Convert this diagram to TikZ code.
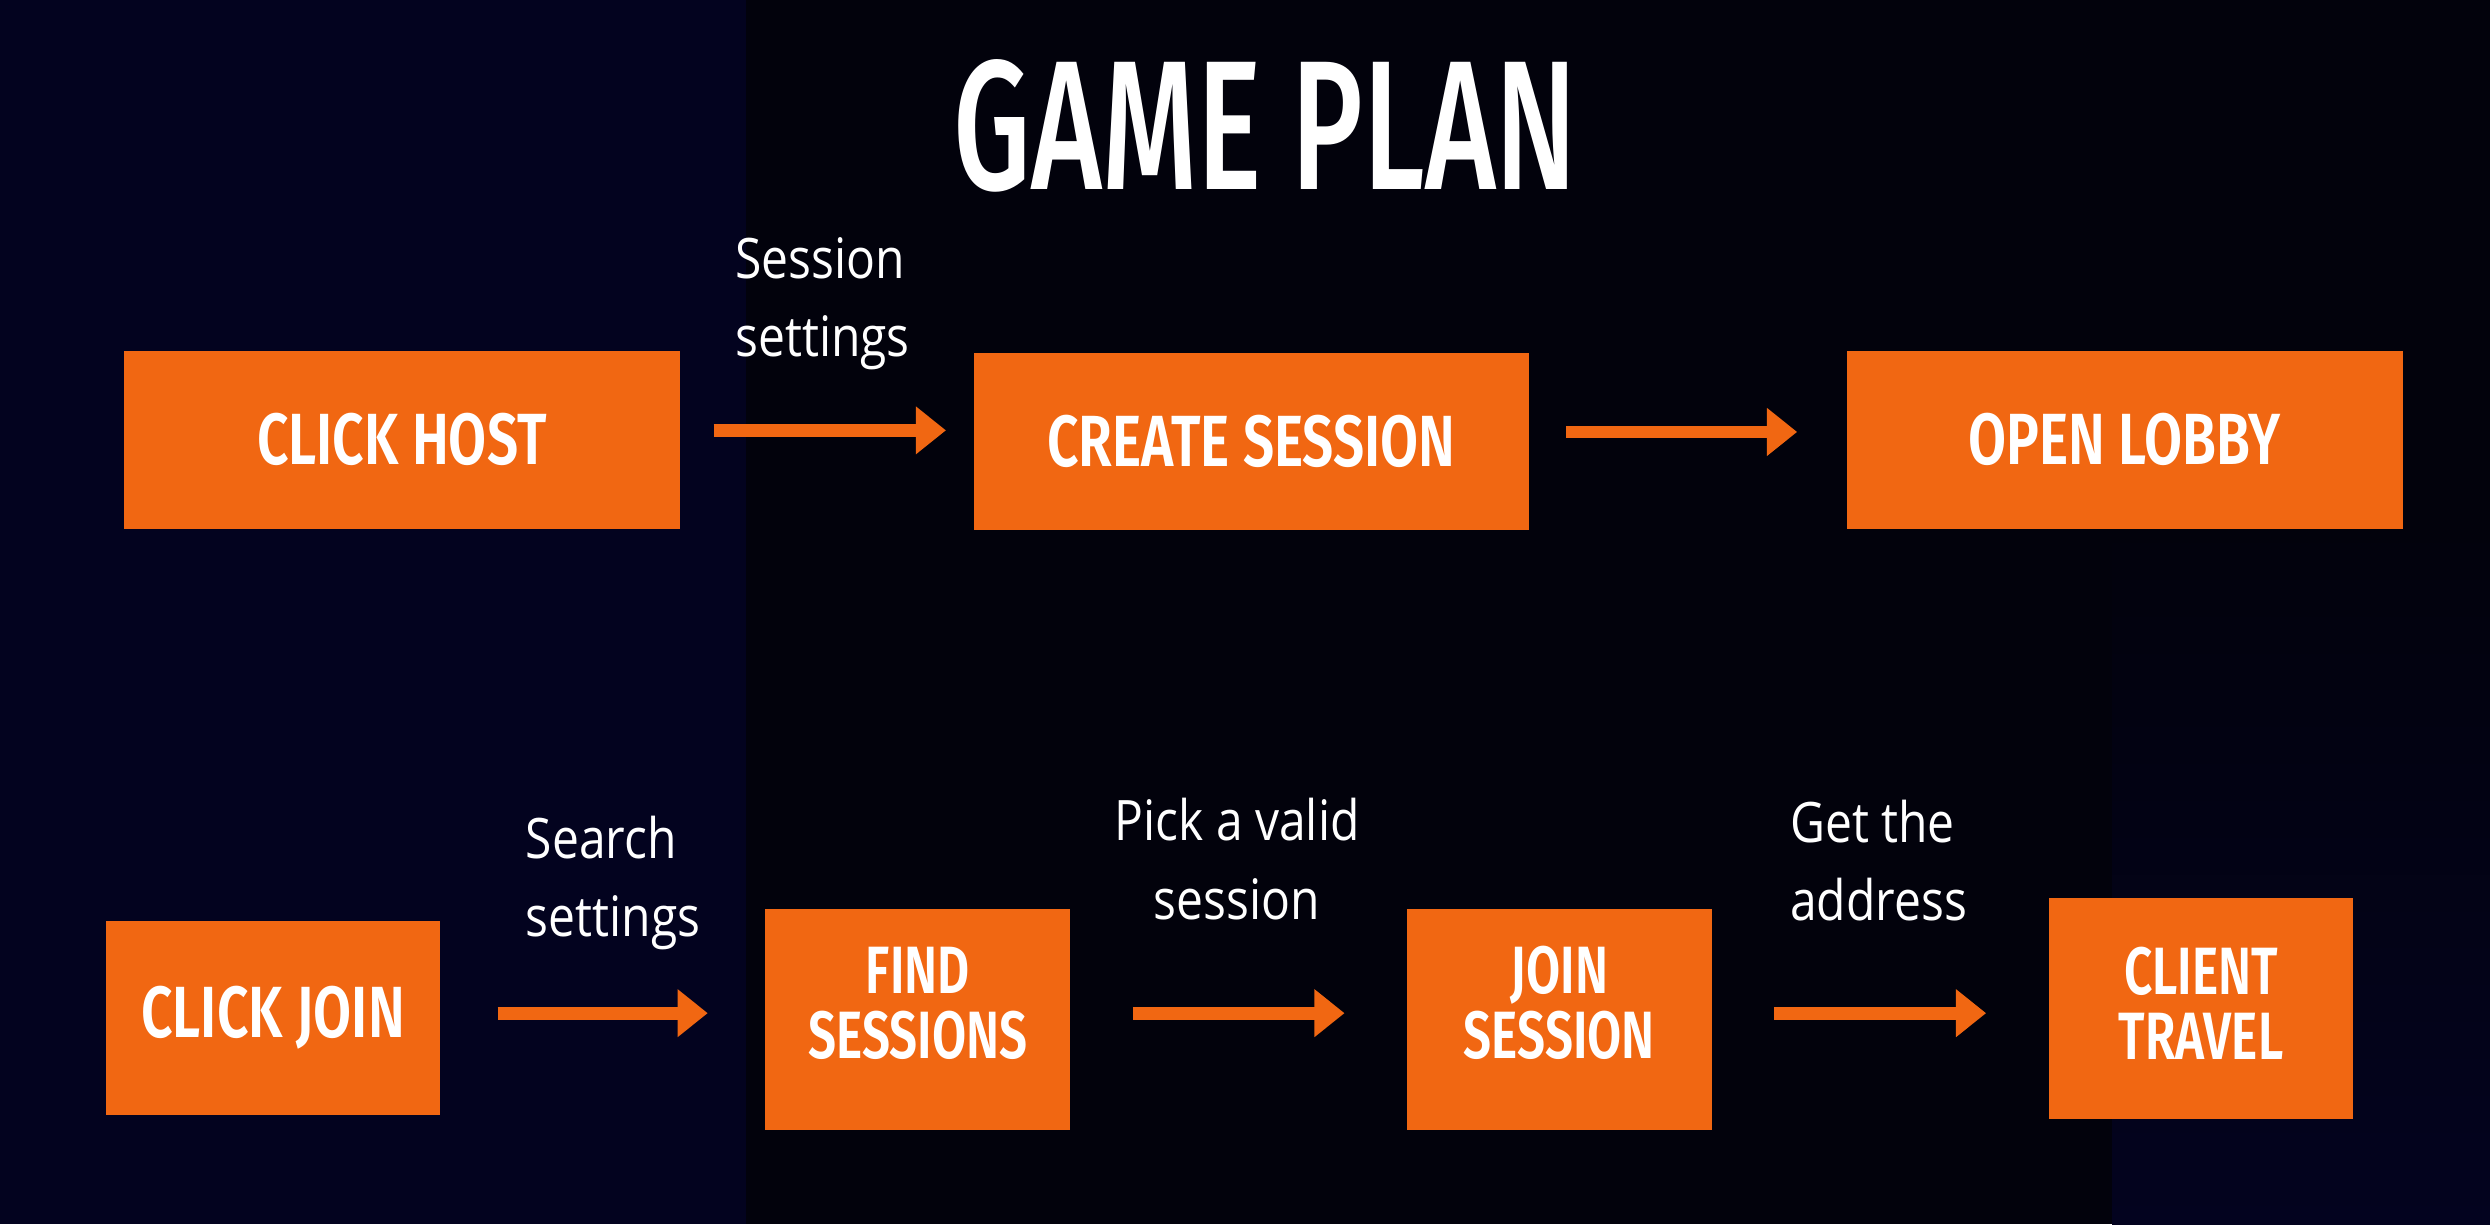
\documentclass[tikz,border=0pt]{standalone}
\usepackage{fontspec}
\setmainfont{Open Sans}
\newfontfamily\titlefont[FakeStretch=0.66]{Fira Sans Medium}
\newfontfamily\boxfont[FakeStretch=0.76]{Fira Sans SemiBold}
\newfontfamily\tallfont[FakeStretch=0.74]{Fira Sans SemiBold}
\newfontfamily\lblfont[FakeStretch=0.86]{Open Sans}
\usetikzlibrary{arrows.meta,positioning}
\definecolor{planorange}{RGB}{241,103,18}
\definecolor{nightnavy}{RGB}{3,3,31}
\definecolor{nightblack}{RGB}{2,2,12}

\begin{document}
\begin{tikzpicture}[x=0.02cm,y=-0.02cm,
   stage/.style={fill=planorange,text=white,align=center,inner sep=0pt,
      font=\boxfont\fontsize{26}{23.2}\selectfont},
   wide/.style={stage,minimum width=7cm,minimum height=2.24cm},
   tall/.style={stage,minimum width=3.84cm,minimum height=2.78cm,
      font=\tallfont\fontsize{24}{23.2}\selectfont,text height=39.7pt,text depth=#1},
   tall/.default=12pt,
   flow/.style={planorange,line width=0.16cm,-{Triangle[length=0.38cm,width=0.58cm]}},
   note/.style={text=white,font=\lblfont\fontsize{20}{28}\selectfont,align=left}]
   % backdrop
   \fill[nightblack] (0,0) rectangle (1568,771);
   \fill[nightnavy] (0,0) rectangle (470,771);
   \shade[top color=nightblack,bottom color=nightnavy] (1330,330) rectangle (1568,771);
   \useasboundingbox (0,0) rectangle (1568,771);
   \node[text=white,inner sep=0pt,font=\titlefont\fontsize{66}{66}\selectfont] (title) at (797,79) {GAME PLAN};
   % host row
   \node[wide] (host) at (253,277) {CLICK HOST};
   \node[wide] (create) at (788,278) {CREATE SESSION};
   \node[wide] (lobby) at (1338,277) {OPEN LOBBY};
   % join row
   \node[stage,minimum width=4.2cm,minimum height=2.44cm] (join) at (172,641) {CLICK JOIN};
   \node[tall] (find) at (578,642) {FIND\\SESSIONS};
   \node[tall] (enter) at (982,642) {JOIN\\SESSION};
   \node[tall=3pt] (travel) at (1386,635) {CLIENT\\TRAVEL};
   \draw[flow,shorten <=0.42cm,shorten >=0.34cm] ([yshift=0.12cm]host.east) -- ([yshift=0.12cm]host.east -| create.west);
   \draw[flow,shorten <=0.46cm,shorten >=0.62cm] ([yshift=0.12cm]create.east) -- ([yshift=0.12cm]create.east -| lobby.west);
   \draw[flow,shorten <=0.72cm,shorten >=0.72cm] ([yshift=0.06cm]join.east) -- ([yshift=0.06cm]join.east -| find.west);
   \draw[flow,shorten <=0.78cm,shorten >=0.78cm] ([yshift=0.08cm]find.east) -- ([yshift=0.08cm]find.east -| enter.west);
   \draw[flow,shorten <=0.78cm,shorten >=0.78cm] ([yshift=0.08cm]enter.east) -- ([yshift=0.08cm]enter.east -| travel.west);
   \node[note] (hostnote) at (518,191) {Session\\settings};
   \node[note] (searchnote) at (386,556) {Search\\settings};
   \node[note,align=center] (picknote) at (779,541) {Pick a valid\\session};
   \node[note] (addrnote) at (1183,542) {Get the\\address};
\end{tikzpicture}
\end{document}
